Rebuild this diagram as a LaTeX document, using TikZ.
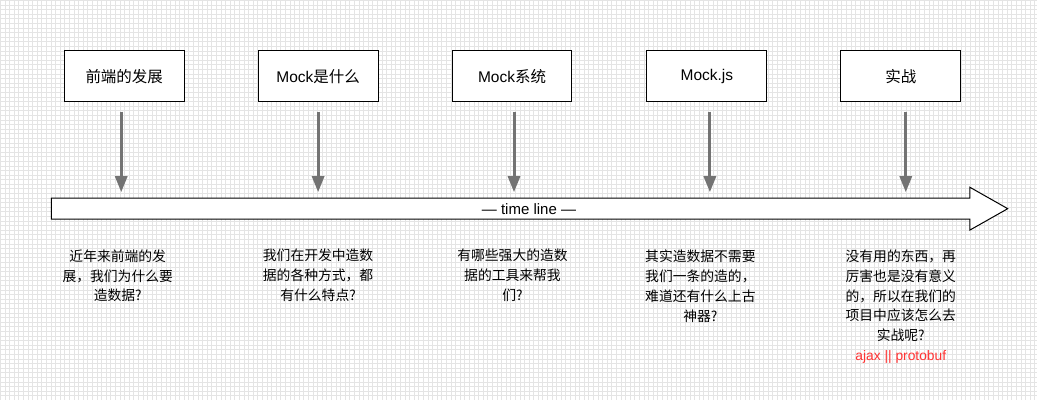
\documentclass[tikz,border=0pt]{standalone}
\usepackage{fontspec}
\setmainfont{Liberation Sans}
\newfontfamily\cjk{Noto Sans CJK SC}
\usetikzlibrary{arrows.meta}
\definecolor{gridgray}{HTML}{E4E4E4}
\definecolor{arrowgray}{HTML}{737373}
\definecolor{notered}{HTML}{FF3333}
\begin{document}
\begin{tikzpicture}[x=1pt,y=-1pt,
  stage/.style={draw=black,line width=1pt,fill=white,minimum width=120pt,minimum height=51pt,inner sep=0pt,
    font=\fontsize{15.5}{18}\selectfont},
  note/.style={align=center,inner sep=0pt,anchor=north,font=\cjk\fontsize{13.8}{20}\selectfont},
  down/.style={draw=arrowgray,line width=3pt,-{Triangle[length=16pt,width=12pt]},shorten >=6pt}]
% background grid
\fill[white] (0,0) rectangle (1037,400);
\draw[gridgray,line width=0.6pt] (0,0) grid[step=4.6pt] (1037,400);
\useasboundingbox (0,0) rectangle (1037,400);
% stages
\node[stage] (b1) at (124,76) {\cjk 前端的发展};
\node[stage] (b2) at (318,76) {Mock{\cjk 是什么}};
\node[stage] (b3) at (512,76) {Mock{\cjk 系统}};
\node[stage] (b4) at (707,76) {Mock.js};
\node[stage] (b5) at (901,76) {\cjk 实战};
% time line
\draw[line width=1pt,fill=white] (51,198)--(970,198)--(970,187)--(1008,208.5)--(970,230)--(970,219)--(51,219)--cycle;
\coordinate (tltop) at (51,198);
\node[font=\fontsize{15}{17}\selectfont] (tl) at (529,208.5) {— time line —};
% arrows
\foreach \b/\dx in {b1/-3,b2/0,b3/2,b4/3,b5/5}
  \draw[down] ([xshift=\dx pt,yshift=-9.5pt]\b.south) -- ([xshift=\dx pt]\b.south |- tltop);
% notes
\node[note] (n1) at (117.5,249) {近年来前端的发\\展，我们为什么要\\造数据?};
\node[note] (n2) at (318,249) {我们在开发中造数\\据的各种方式，都\\有什么特点?};
\node[note] (n3) at (512.5,249) {有哪些强大的造数\\据的工具来帮我\\们?};
\node[note] (n4) at (700.5,249) {其实造数据不需要\\我们一条的造的，\\难道还有什么上古\\神器?};
\node[note] (n5) at (901,249) {没有用的东西，再\\厉害也是没有意义\\的，所以在我们的\\项目中应该怎么去\\实战呢?\\{\rmfamily\color{notered}ajax || protobuf}};
\end{tikzpicture}
\end{document}
